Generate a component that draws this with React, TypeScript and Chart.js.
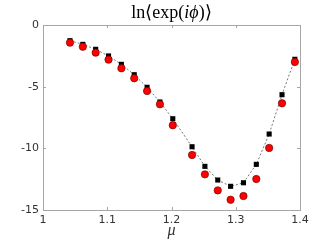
import React, { useEffect, useRef } from "react";
import { Chart, registerables } from "chart.js";

Chart.register(...registerables);

const muSquares = [1.042, 1.062, 1.082, 1.102, 1.122, 1.142, 1.162, 1.182, 1.202, 1.232, 1.252, 1.272, 1.292, 1.312, 1.332, 1.352, 1.372, 1.392];
const valSquares = [-1.27, -1.57, -1.97, -2.51, -3.19, -4.03, -5.05, -6.24, -7.6, -9.87, -11.46, -12.57, -13.08, -12.79, -11.3, -8.84, -5.65, -2.78];
const muCircles = [1.042, 1.062, 1.082, 1.102, 1.122, 1.142, 1.162, 1.182, 1.202, 1.232, 1.252, 1.272, 1.292, 1.312, 1.332, 1.352, 1.372, 1.392];
const valCircles = [-1.43, -1.76, -2.24, -2.81, -3.51, -4.32, -5.35, -6.43, -8.13, -10.54, -12.11, -13.41, -14.17, -13.87, -12.49, -9.97, -6.35, -3.0];
const xTicks = [1, 1.1, 1.2, 1.3, 1.4];
const yTicks = [-15, -10, -5, 0];

const framePlugin = {
  id: "frame",
  afterDatasetsDraw(chart: any) {
    const { ctx, chartArea: a, scales } = chart;
    ctx.save();
    ctx.strokeStyle = "#a6a6a6";
    ctx.lineWidth = 1;
    ctx.strokeRect(Math.round(a.left) + 0.5, Math.round(a.top) + 0.5, Math.round(a.right - a.left), Math.round(a.bottom - a.top));
    const len = 3;
    ctx.beginPath();
    for (const v of xTicks) {
      const x = Math.round(scales.x.getPixelForValue(v)) + 0.5;
      ctx.moveTo(x, a.bottom);
      ctx.lineTo(x, a.bottom - len);
      ctx.moveTo(x, a.top);
      ctx.lineTo(x, a.top + len);
    }
    for (const v of yTicks) {
      const y = Math.round(scales.y.getPixelForValue(v)) + 0.5;
      ctx.moveTo(a.left, y);
      ctx.lineTo(a.left + len, y);
      ctx.moveTo(a.right, y);
      ctx.lineTo(a.right - len, y);
    }
    ctx.stroke();
    ctx.restore();
  },
};

const titlePlugin = {
  id: "mathTitle",
  afterDraw(chart: any) {
    const { ctx, chartArea: a } = chart;
    const parts: [string, string][] = [
      ["ln⟨exp(", "18px 'Liberation Serif'"],
      ["iϕ", "italic 18px 'Liberation Serif'"],
      [")⟩", "18px 'Liberation Serif'"],
    ];
    ctx.save();
    ctx.fillStyle = "#000";
    ctx.textBaseline = "alphabetic";
    let total = 0;
    for (const [t, f] of parts) {
      ctx.font = f;
      total += ctx.measureText(t).width;
    }
    let x = (a.left + a.right) / 2 - total / 2;
    for (const [t, f] of parts) {
      ctx.font = f;
      ctx.textAlign = "left";
      ctx.fillText(t, x, 18);
      x += ctx.measureText(t).width;
    }
    ctx.restore();
  },
};

export default function App() {
  const ref = useRef<HTMLCanvasElement>(null);
  useEffect(() => {
    document.body.style.margin = "0";
    const chart = new Chart(ref.current!, {
      type: "scatter",
      data: {
        datasets: [
          {
            label: "circles",
            data: muCircles.map((x, i) => ({ x, y: valCircles[i] })),
            pointStyle: "circle",
            pointRadius: 3.7,
            pointBackgroundColor: "#ff0000",
            pointBorderColor: "#5a0000",
            pointBorderWidth: 0.6,
            showLine: false,
          },
          {
            label: "squares",
            data: muSquares.map((x, i) => ({ x, y: valSquares[i] })),
            pointStyle: "rect",
            pointRadius: 3.6,
            pointBackgroundColor: "#000",
            pointBorderColor: "#000",
            pointBorderWidth: 0,
            showLine: true,
            borderColor: "#555",
            borderWidth: 0.8,
            borderDash: [2, 2],
            tension: 0,
          },
        ],
      },
      options: {
        animation: false,
        responsive: false,
        events: [],
        layout: { padding: { top: 25, right: 32, bottom: 0, left: 0 } },
        plugins: { legend: { display: false }, tooltip: { enabled: false }, title: { display: false } },
        scales: {
          x: {
            type: "linear",
            min: 1,
            max: 1.4,
            afterBuildTicks: (s: any) => { s.ticks = xTicks.map((v) => ({ value: v })); },
            afterFit: (s: any) => { s.height = 39; },
            grid: { display: false, drawTicks: false },
            border: { display: false },
            ticks: {
              padding: 4,
              color: "#333",
              font: { family: "'DejaVu Sans'", size: 11 },
              callback: (v: any) => String(v),
            },
            title: {
              display: true,
              text: "μ",
              color: "#333",
              font: { family: "'Liberation Serif'", size: 16, style: "italic", lineHeight: 1 },
              padding: { top: 0, bottom: 10 },
            },
          },
          y: {
            type: "linear",
            min: -15,
            max: 0,
            afterBuildTicks: (s: any) => { s.ticks = yTicks.map((v) => ({ value: v })); },
            afterFit: (s: any) => { s.width = 43; },
            grid: { display: false, drawTicks: false },
            border: { display: false },
            ticks: {
              padding: 4,
              color: "#333",
              font: { family: "'DejaVu Sans'", size: 11 },
              callback: (v: any) => String(v),
            },
          },
        },
      },
      plugins: [framePlugin, titlePlugin],
    });
    return () => chart.destroy();
  }, []);
  return (
    <div style={{ width: 332, height: 249 }}>
      <canvas ref={ref} width={332} height={249} style={{ display: "block" }} />
    </div>
  );
}
